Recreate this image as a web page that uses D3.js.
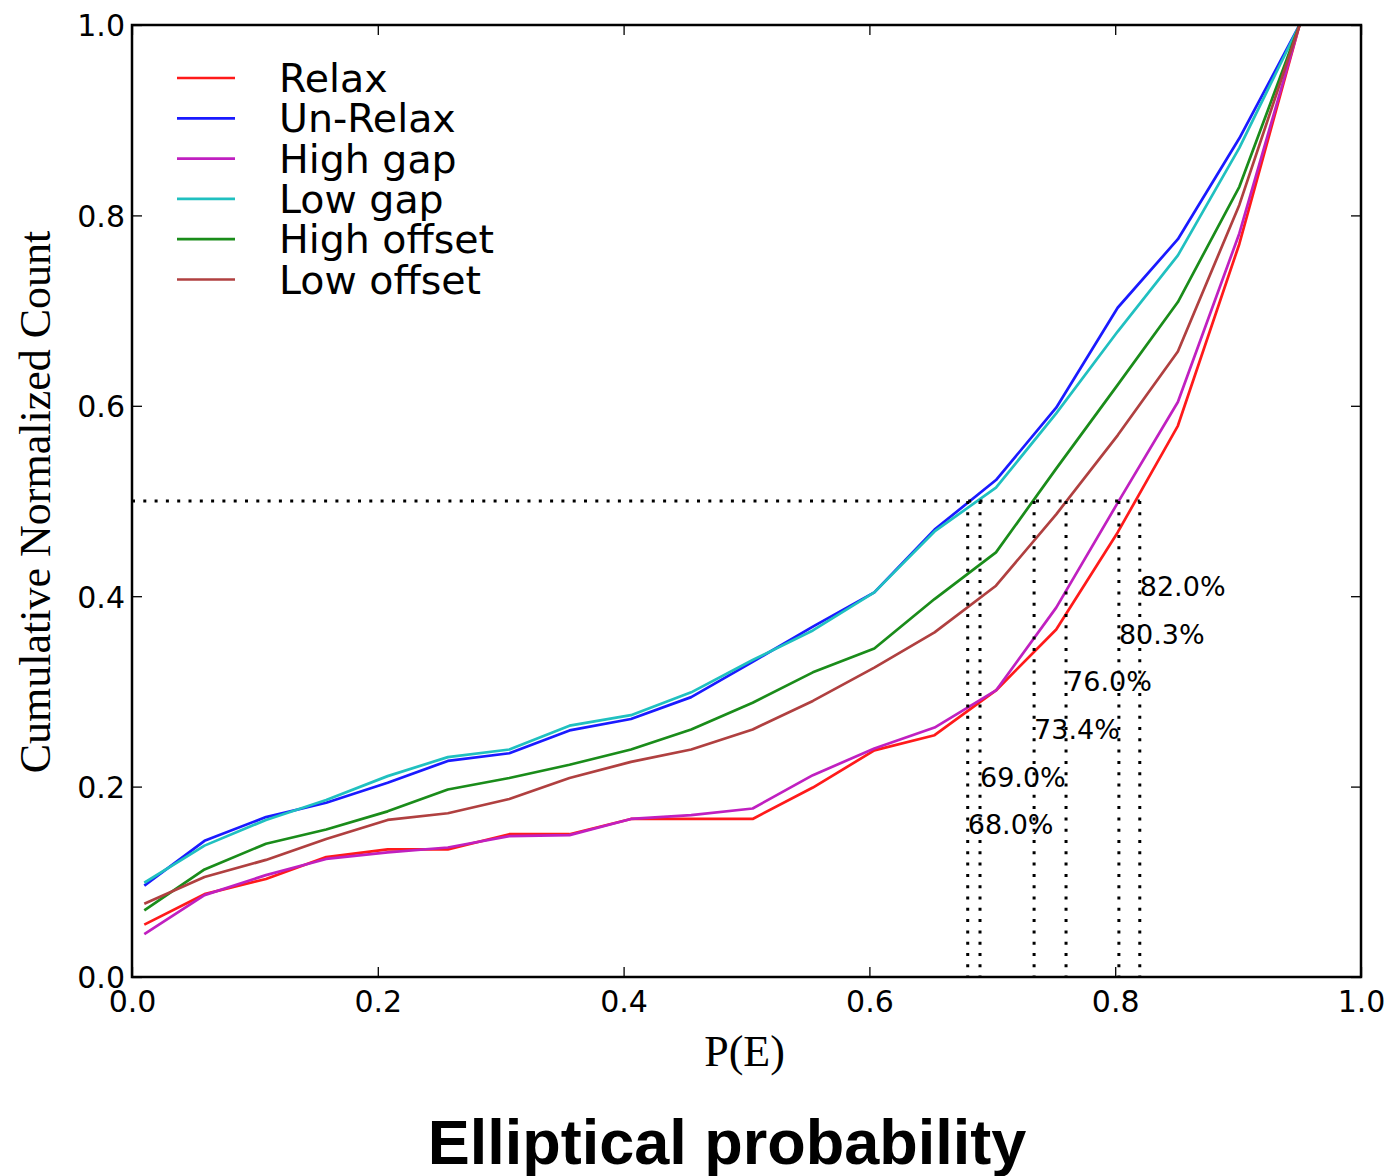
<!DOCTYPE html>
<html>
<head>
<meta charset="utf-8">
<script src="https://cdn.jsdelivr.net/npm/d3@7"></script>
<style>
  html, body { margin: 0; padding: 0; background: #fff; }
  svg { display: block; }
</style>
</head>
<body>
<svg id="chart" width="1397" height="1176"></svg>
<script>
// Bin centres of P(E)
const pe = [0.010, 0.059, 0.109, 0.158, 0.208, 0.257, 0.307, 0.356, 0.406, 0.455,
            0.505, 0.554, 0.604, 0.653, 0.703, 0.752, 0.802, 0.851, 0.901, 0.950];

// Cumulative normalized counts per sample
const relax      = [0.055, 0.087, 0.103, 0.126, 0.134, 0.134, 0.150, 0.150, 0.166, 0.166,
                    0.166, 0.199, 0.238, 0.254, 0.301, 0.365, 0.467, 0.579, 0.770, 1.000];
const unRelax    = [0.096, 0.143, 0.168, 0.183, 0.204, 0.227, 0.235, 0.259, 0.271, 0.294,
                    0.331, 0.368, 0.404, 0.470, 0.522, 0.598, 0.703, 0.775, 0.881, 1.000];
const highGap    = [0.045, 0.086, 0.107, 0.124, 0.131, 0.136, 0.148, 0.149, 0.166, 0.170,
                    0.177, 0.212, 0.240, 0.262, 0.301, 0.388, 0.498, 0.604, 0.781, 1.000];
const lowGap     = [0.099, 0.138, 0.165, 0.186, 0.211, 0.231, 0.239, 0.264, 0.275, 0.299,
                    0.333, 0.364, 0.404, 0.468, 0.514, 0.592, 0.678, 0.758, 0.871, 1.000];
const highOffset = [0.070, 0.113, 0.140, 0.155, 0.174, 0.197, 0.209, 0.223, 0.239, 0.260,
                    0.288, 0.320, 0.345, 0.397, 0.446, 0.534, 0.622, 0.709, 0.830, 1.000];
const lowOffset  = [0.077, 0.105, 0.123, 0.145, 0.165, 0.172, 0.187, 0.209, 0.226, 0.239,
                    0.260, 0.290, 0.325, 0.362, 0.411, 0.486, 0.569, 0.657, 0.811, 1.000];

const seriesNames  = ["Relax", "Un-Relax", "High gap", "Low gap", "High offset", "Low offset"];
const seriesValues = [relax, unRelax, highGap, lowGap, highOffset, lowOffset];
const seriesColors = ["#ff1a1a", "#1a1aff", "#c020c0", "#20c0c0", "#1a8c1a", "#b04040"];

// Median crossings (P(E) where the cumulative count reaches 0.5)
const medianLevel  = 0.5;
const medianPE     = [0.680, 0.690, 0.734, 0.760, 0.803, 0.820];
const medianLabels = ["68.0%", "69.0%", "73.4%", "76.0%", "80.3%", "82.0%"];
const labelLevels  = [0.15, 0.20, 0.25, 0.30, 0.35, 0.40];

const tickValues = [0.0, 0.2, 0.4, 0.6, 0.8, 1.0];

const svg = d3.select("#chart");
const plotLeft = 132, plotRight = 1361, plotTop = 25, plotBottom = 977;

const x = d3.scaleLinear().domain([0, 1]).range([plotLeft, plotRight]);
const y = d3.scaleLinear().domain([0, 1]).range([plotBottom, plotTop]);

const sansTick = "'DejaVu Sans', sans-serif";
const serif = "'Liberation Serif', 'Times New Roman', serif";

// Series lines
const line = d3.line().x((d, i) => x(pe[i])).y(d => y(d));
const plot = svg.append("g");
seriesValues.forEach((vals, k) => {
  plot.append("path")
    .datum(vals)
    .attr("d", line)
    .attr("fill", "none")
    .attr("stroke", seriesColors[k])
    .attr("stroke-width", 2.7)
    .attr("stroke-linejoin", "round");
});

// Dotted median guides
const dotted = svg.append("g")
  .attr("stroke", "#000")
  .attr("stroke-width", 3)
  .attr("stroke-dasharray", "3 8.3");
dotted.append("line")
  .attr("x1", x(0)).attr("x2", x(d3.max(medianPE)))
  .attr("y1", y(medianLevel)).attr("y2", y(medianLevel));
dotted.selectAll("line.v")
  .data(medianPE)
  .join("line")
  .attr("class", "v")
  .attr("x1", d => x(d)).attr("x2", d => x(d))
  .attr("y1", y(medianLevel)).attr("y2", y(0));

// Median labels
svg.append("g").selectAll("text")
  .data(medianPE)
  .join("text")
  .attr("x", d => x(d))
  .attr("y", (d, i) => y(labelLevels[i]))
  .attr("font-family", sansTick)
  .attr("font-size", 27)
  .attr("fill", "#000")
  .text((d, i) => medianLabels[i]);

// Axes frame
svg.append("rect")
  .attr("x", plotLeft).attr("y", plotTop)
  .attr("width", plotRight - plotLeft).attr("height", plotBottom - plotTop)
  .attr("fill", "none")
  .attr("stroke", "#000")
  .attr("stroke-width", 2.5);

// Inward ticks on all four sides
const tickSize = -10;
const axisStyle = g => {
  g.select(".domain").remove();
  g.selectAll(".tick line").attr("stroke", "#000").attr("stroke-width", 1.3);
};
svg.append("g")
  .attr("transform", `translate(0,${plotBottom})`)
  .call(d3.axisBottom(x).tickValues(tickValues).tickSize(tickSize).tickFormat(d3.format(".1f")))
  .call(axisStyle)
  .call(g => g.selectAll(".tick text")
    .attr("font-family", sansTick).attr("font-size", 30).attr("fill", "#000")
    .attr("y", 35).attr("dy", 0));
svg.append("g")
  .attr("transform", `translate(0,${plotTop})`)
  .call(d3.axisTop(x).tickValues(tickValues).tickSize(tickSize).tickFormat(""))
  .call(axisStyle);
svg.append("g")
  .attr("transform", `translate(${plotLeft},0)`)
  .call(d3.axisLeft(y).tickValues(tickValues).tickSize(tickSize).tickFormat(d3.format(".1f")))
  .call(axisStyle)
  .call(g => g.selectAll(".tick text")
    .attr("font-family", sansTick).attr("font-size", 30).attr("fill", "#000")
    .attr("x", -7).attr("dy", "0.36em"));
svg.append("g")
  .attr("transform", `translate(${plotRight},0)`)
  .call(d3.axisRight(y).tickValues(tickValues).tickSize(tickSize).tickFormat(""))
  .call(axisStyle);

// Axis titles
svg.append("text")
  .attr("x", (plotLeft + plotRight) / 2 - 2)
  .attr("y", 1066)
  .attr("text-anchor", "middle")
  .attr("font-family", serif)
  .attr("font-size", 44)
  .attr("fill", "#000")
  .text("P(E)");
svg.append("text")
  .attr("transform", `translate(50,${(plotTop + plotBottom) / 2 + 1}) rotate(-90)`)
  .attr("text-anchor", "middle")
  .attr("font-family", serif)
  .attr("font-size", 44)
  .attr("fill", "#000")
  .text("Cumulative Normalized Count");

// Legend
const legend = svg.append("g");
seriesNames.forEach((name, k) => {
  const ly = 78 + k * 40.3;
  legend.append("line")
    .attr("x1", 177).attr("x2", 235)
    .attr("y1", ly).attr("y2", ly)
    .attr("stroke", seriesColors[k])
    .attr("stroke-width", 2.7);
  legend.append("text")
    .attr("x", 279).attr("y", ly + 14)
    .attr("font-family", sansTick)
    .attr("font-size", 39.5)
    .attr("fill", "#000")
    .text(name);
});

// Chart title
svg.append("text")
  .attr("x", 727)
  .attr("y", 1164)
  .attr("text-anchor", "middle")
  .attr("font-family", "'Liberation Sans', Arial, sans-serif")
  .attr("font-weight", "bold")
  .attr("font-size", 63)
  .attr("fill", "#000")
  .text("Elliptical probability");
</script>
</body>
</html>
